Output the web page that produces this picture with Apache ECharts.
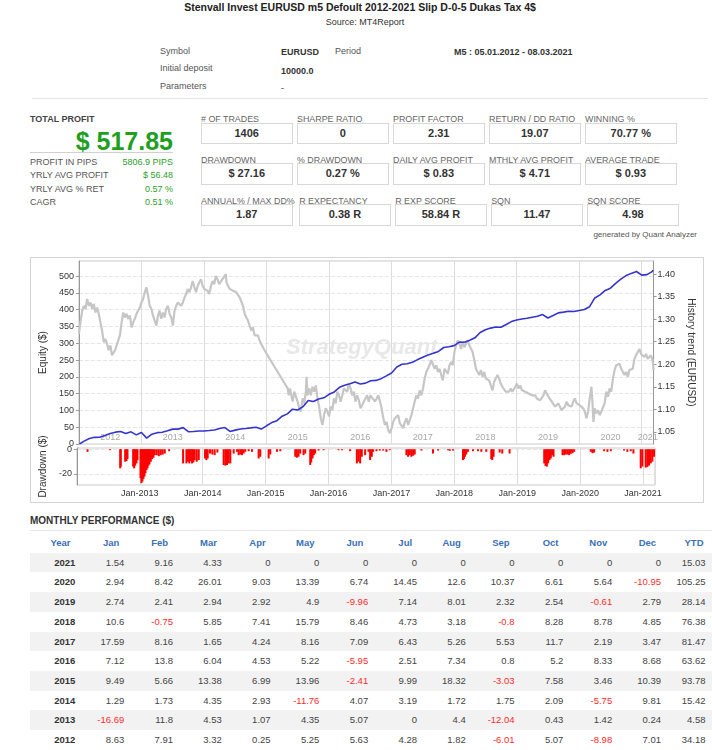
<!DOCTYPE html>
<html>
<head>
<meta charset="utf-8">
<script src="https://cdn.jsdelivr.net/npm/echarts@6/dist/echarts.min.js"></script>
<style>
body { margin:0; width:712px; height:750px; position:relative; overflow:hidden; background:#fff;
	font-family:"Liberation Sans", Arial, sans-serif; color:#444; }
.t { position:absolute; white-space:nowrap; height:14px; line-height:14px; }
.lbl { font-size:9px; color:#555; }
.val { font-size:9px; color:#333; font-weight:bold; }
.sum-row { position:absolute; left:30px; width:143px; height:12px; line-height:12px; font-size:9px; }
.sum-row span.l { color:#555; }
.sum-row span.r { float:right; color:#2ca02c; }
.box-row { position:absolute; left:201px; white-space:nowrap; font-size:0; }
.cell { display:inline-block; vertical-align:top; margin-right:4.5px; min-width:91.5px; }
.cell .cl { font-size:8.9px; color:#666; height:8px; line-height:8px; white-space:nowrap; }
.cell .cb { width:91.5px; height:21.5px; box-sizing:border-box; border:1px solid #d8d8d8; margin-top:-0.5px;
	text-align:center; line-height:19.5px; font-size:11px; font-weight:bold; color:#333; }
#perf { position:absolute; left:30px; top:533px; border-collapse:collapse; table-layout:fixed; width:682px; }
#perf td, #perf th { height:19.7px; line-height:19.7px; padding:0 3.6px 0 0; text-align:right; font-size:9.5px;
	white-space:nowrap; overflow:visible; color:#444; font-weight:normal; }
#perf th { color:#3a70b5; font-weight:bold; padding-right:8.5px; }
#perf td.yr { font-weight:bold; color:#333; }
#perf td.neg { color:#ff2b2b; }
#perf tr.odd td { background:#f2f2f2; }
</style>
</head>
<body>

<div class="t" style="left:160px; width:400px; top:0px; text-align:center; font-size:10.5px; font-weight:bold; color:#222;">Stenvall Invest EURUSD m5 Defoult 2012-2021 Slip D-0-5 Dukas Tax 4$</div>
<div class="t" style="left:265px; width:200px; top:15px; text-align:center; font-size:9px; color:#333;">Source: MT4Report</div>

<div class="t lbl" style="left:160px; top:44px;">Symbol</div>
<div class="t val" style="left:281px; top:45px;">EURUSD</div>
<div class="t lbl" style="left:335px; top:44px;">Period</div>
<div class="t val" style="left:454px; top:45px;">M5 : 05.01.2012 - 08.03.2021</div>
<div class="t lbl" style="left:160px; top:61px;">Initial deposit</div>
<div class="t val" style="left:281px; top:64px;">10000.0</div>
<div class="t lbl" style="left:160px; top:79px;">Parameters</div>
<div class="t val" style="left:281px; top:81px; font-weight:normal;">-</div>
<div style="position:absolute; left:32px; top:98px; width:676px; height:1px; background:#e3e3e3;"></div>

<div class="t" style="left:30px; top:112px; font-size:9px; font-weight:bold; color:#444;">TOTAL PROFIT</div>
<div class="t" id="total_profit" style="left:30px; width:143px; top:126px; height:30px; line-height:30px; text-align:right; font-size:25px; font-weight:bold; color:#1f9f1f;"></div>
<div style="position:absolute; left:30px; top:152px; width:143px; height:1px; background:#d0d0d0;"></div>
<div id="summary"></div>

<div id="boxes"></div>
<div class="t" style="left:497px; width:200px; top:228px; text-align:right; font-size:8px; color:#555;">generated by Quant Analyzer</div>

<div id="chart" style="position:absolute; left:30px; top:257px; width:674px; height:246px;"></div>

<div class="t" style="left:30px; top:514px; font-size:10px; font-weight:bold; color:#333;">MONTHLY PERFORMANCE ($)</div>
<div style="position:absolute; left:30px; top:530px; width:682px; height:1px; background:#e6e6e6;"></div>
<table id="perf"></table>

<script>
// ---- data ----
var totalProfit = '$ 517.85';
var summaryLabels = ['PROFIT IN PIPS', 'YRLY AVG PROFIT', 'YRLY AVG % RET', 'CAGR'];
var summaryValues = ['5806.9 PIPS', '$ 56.48', '0.57 %', '0.51 %'];

var boxLabels = [
	['# OF TRADES', 'SHARPE RATIO', 'PROFIT FACTOR', 'RETURN / DD RATIO', 'WINNING %'],
	['DRAWDOWN', '% DRAWDOWN', 'DAILY AVG PROFIT', 'MTHLY AVG PROFIT', 'AVERAGE TRADE'],
	['ANNUAL% / MAX DD%', 'R EXPECTANCY', 'R EXP SCORE', 'SQN', 'SQN SCORE']
];
var boxValues = [
	['1406', '0', '2.31', '19.07', '70.77 %'],
	['$ 27.16', '0.27 %', '$ 0.83', '$ 4.71', '$ 0.93'],
	['1.87', '0.38 R', '58.84 R', '11.47', '4.98']
];

var monthNames = ['Jan', 'Feb', 'Mar', 'Apr', 'May', 'Jun', 'Jul', 'Aug', 'Sep', 'Oct', 'Nov', 'Dec'];
var perfYears = [2021, 2020, 2019, 2018, 2017, 2016, 2015, 2014, 2013, 2012];
var monthly = [
	[1.54, 9.16, 4.33, 0, 0, 0, 0, 0, 0, 0, 0, 0],
	[2.94, 8.42, 26.01, 9.03, 13.39, 6.74, 14.45, 12.6, 10.37, 6.61, 5.64, -10.95],
	[2.74, 2.41, 2.94, 2.92, 4.9, -9.96, 7.14, 8.01, 2.32, 2.54, -0.61, 2.79],
	[10.6, -0.75, 5.85, 7.41, 15.79, 8.46, 4.73, 3.18, -0.8, 8.28, 8.78, 4.85],
	[17.59, 8.16, 1.65, 4.24, 8.16, 7.09, 6.43, 5.26, 5.53, 11.7, 2.19, 3.47],
	[7.12, 13.8, 6.04, 4.53, 5.22, -5.95, 2.51, 7.34, 0.8, 5.2, 8.33, 8.68],
	[9.49, 5.66, 13.38, 6.99, 13.96, -2.41, 9.99, 18.32, -3.03, 7.58, 3.46, 10.39],
	[1.29, 1.73, 4.35, 2.93, -11.76, 4.07, 3.19, 1.72, 1.75, 2.09, -5.75, 9.81],
	[-16.69, 11.8, 4.53, 1.07, 4.35, 5.07, 0, 4.4, -12.04, 0.43, 1.42, 0.24],
	[8.63, 7.91, 3.32, 0.25, 5.25, 5.63, 4.28, 1.82, -6.01, 5.07, -8.98, 7.01]
];
var ytd = [15.03, 105.25, 28.14, 76.38, 81.47, 63.62, 93.78, 15.42, 4.58, 34.18];

// test period, decimal years (05.01.2012 - 08.03.2021)
var testStart = 2012.01;
var testEnd = 2021.18;

// equity at each month end, Jan 2012 .. Mar 2021
var equity = [
	8.63, 16.54, 19.86, 20.11, 25.36, 30.99, 35.27, 37.09, 31.08, 36.15, 27.17, 34.18,
	17.49, 29.29, 33.82, 34.89, 39.24, 44.31, 44.31, 48.71, 36.67, 37.10, 38.52, 38.76,
	40.05, 41.78, 46.13, 49.06, 37.30, 41.37, 44.56, 46.28, 48.03, 50.12, 44.37, 54.18,
	63.67, 69.33, 82.71, 89.70, 103.66, 101.25, 111.24, 129.56, 126.53, 134.11, 137.57, 147.96,
	155.08, 168.88, 174.92, 179.45, 184.67, 178.72, 181.23, 188.57, 189.37, 194.57, 202.90, 211.58,
	229.17, 237.33, 238.98, 243.22, 251.38, 258.47, 264.90, 270.16, 275.69, 287.39, 289.58, 293.05,
	303.65, 302.90, 308.75, 316.16, 331.95, 340.41, 345.14, 348.32, 347.52, 355.80, 364.58, 369.43,
	372.17, 374.58, 377.52, 380.44, 385.34, 375.38, 382.52, 390.53, 392.85, 395.39, 394.78, 397.57,
	400.51, 408.93, 434.94, 443.97, 457.36, 464.10, 478.55, 491.15, 501.52, 508.13, 513.77, 502.82,
	504.36, 513.52, 517.85
];

// EURUSD history trend [decimal year, price]
var eurusd = [
	[2012.000,1.268],[2012.021,1.290],[2012.053,1.319],[2012.079,1.330],[2012.106,1.323],[2012.132,1.345],[2012.159,1.330],[2012.185,1.337],[2012.212,1.323],[2012.238,1.334],[2012.265,1.315],[2012.291,1.326],[2012.317,1.312],[2012.344,1.293],[2012.370,1.275],[2012.397,1.249],[2012.423,1.256],[2012.450,1.245],[2012.476,1.231],[2012.503,1.242],[2012.529,1.220],[2012.550,1.216],[2012.577,1.231],[2012.603,1.242],[2012.630,1.253],[2012.656,1.264],[2012.683,1.293],[2012.709,1.315],[2012.735,1.304],[2012.762,1.312],[2012.788,1.301],[2012.815,1.308],[2012.841,1.282],[2012.868,1.293],[2012.894,1.301],[2012.921,1.312],[2012.947,1.319],[2012.974,1.326],
	[2013.000,1.337],[2013.026,1.345],[2013.053,1.360],[2013.079,1.371],[2013.106,1.352],[2013.132,1.330],[2013.159,1.323],[2013.185,1.308],[2013.212,1.304],[2013.238,1.286],[2013.265,1.308],[2013.291,1.319],[2013.317,1.301],[2013.344,1.315],[2013.370,1.304],[2013.397,1.323],[2013.423,1.330],[2013.450,1.312],[2013.476,1.304],[2013.503,1.286],[2013.529,1.319],[2013.556,1.330],[2013.582,1.337],[2013.608,1.341],[2013.635,1.330],[2013.661,1.337],[2013.688,1.348],[2013.714,1.356],[2013.741,1.367],[2013.767,1.360],[2013.794,1.371],[2013.820,1.385],[2013.847,1.371],[2013.873,1.360],[2013.899,1.374],[2013.926,1.382],[2013.952,1.389],[2013.979,1.374],
	[2014.005,1.367],[2014.032,1.371],[2014.058,1.363],[2014.085,1.356],[2014.111,1.374],[2014.138,1.385],[2014.164,1.378],[2014.190,1.396],[2014.217,1.389],[2014.243,1.378],[2014.270,1.382],[2014.296,1.389],[2014.323,1.393],[2014.349,1.400],[2014.360,1.382],[2014.386,1.374],[2014.413,1.367],[2014.439,1.371],[2014.466,1.363],[2014.492,1.367],[2014.519,1.360],[2014.545,1.356],[2014.571,1.348],[2014.598,1.345],[2014.624,1.330],[2014.651,1.312],[2014.677,1.304],[2014.704,1.297],[2014.730,1.286],[2014.757,1.275],[2014.783,1.282],[2014.810,1.264],[2014.836,1.260],[2014.862,1.264],[2014.889,1.253],[2014.915,1.245],[2014.942,1.242],[2014.968,1.231],
	[2015.339,1.146],[2015.354,1.131],[2015.376,1.146],[2015.397,1.131],[2015.418,1.117],[2015.444,1.139],[2015.471,1.135],[2015.497,1.117],[2015.524,1.102],[2015.550,1.095],[2015.577,1.124],[2015.603,1.113],[2015.630,1.139],[2015.640,1.172],[2015.656,1.131],[2015.683,1.146],[2015.709,1.131],[2015.735,1.150],[2015.762,1.139],[2015.788,1.153],[2015.815,1.124],[2015.841,1.106],[2015.868,1.080],[2015.894,1.065],[2015.921,1.087],[2015.947,1.102],[2015.974,1.095],
	[2016.000,1.084],[2016.026,1.106],[2016.053,1.098],[2016.079,1.124],[2016.106,1.113],[2016.132,1.139],[2016.159,1.131],[2016.185,1.117],[2016.212,1.131],[2016.238,1.146],[2016.265,1.150],[2016.291,1.139],[2016.317,1.157],[2016.344,1.146],[2016.370,1.131],[2016.397,1.139],[2016.423,1.117],[2016.450,1.131],[2016.476,1.120],[2016.503,1.102],[2016.529,1.109],[2016.556,1.117],[2016.582,1.124],[2016.608,1.131],[2016.635,1.117],[2016.661,1.131],[2016.688,1.135],
	[2016.735,1.117],[2016.762,1.124],[2016.788,1.131],[2016.815,1.117],[2016.841,1.102],[2016.868,1.080],[2016.894,1.065],[2016.921,1.072],[2016.947,1.054],[2016.974,1.047],
	[2017.000,1.058],[2017.026,1.072],[2017.053,1.080],[2017.079,1.076],[2017.106,1.087],[2017.132,1.069],[2017.159,1.065],[2017.185,1.058],[2017.212,1.072],[2017.238,1.080],[2017.265,1.065],[2017.291,1.069],[2017.317,1.087],[2017.344,1.102],[2017.370,1.117],[2017.397,1.131],[2017.423,1.124],[2017.450,1.142],[2017.476,1.131],[2017.503,1.146],[2017.529,1.168],[2017.556,1.183],[2017.582,1.187],[2017.608,1.198],[2017.635,1.209],[2017.661,1.205],[2017.688,1.190],[2017.714,1.198],[2017.741,1.183],[2017.767,1.190],[2017.794,1.176],[2017.820,1.164],[2017.847,1.190],[2017.873,1.187],[2017.899,1.179],[2017.926,1.198],[2017.952,1.205],[2017.979,1.198],
	[2018.005,1.227],[2018.032,1.242],[2018.058,1.253],[2018.085,1.245],[2018.111,1.234],[2018.138,1.249],[2018.164,1.238],[2018.190,1.245],[2018.217,1.253],[2018.243,1.242],[2018.270,1.245],[2018.296,1.227],[2018.323,1.209],[2018.349,1.190],[2018.376,1.183],[2018.402,1.176],[2018.429,1.187],[2018.455,1.172],[2018.481,1.183],[2018.508,1.168],[2018.534,1.172],[2018.561,1.164],[2018.587,1.153],[2018.614,1.142],[2018.640,1.161],[2018.667,1.164],[2018.693,1.176],[2018.720,1.168],[2018.746,1.157],[2018.772,1.150],[2018.799,1.146],[2018.825,1.139],[2018.852,1.142],[2018.878,1.139],[2018.905,1.146],[2018.931,1.139],
	[2018.979,1.150],[2019.005,1.157],[2019.032,1.146],[2019.058,1.153],[2019.085,1.142],[2019.111,1.146],[2019.138,1.139],[2019.164,1.142],[2019.190,1.135],[2019.217,1.139],[2019.243,1.131],[2019.270,1.128],[2019.296,1.131],[2019.323,1.124],[2019.349,1.128],[2019.376,1.120],[2019.402,1.124],[2019.429,1.131],[2019.455,1.142],[2019.481,1.135],[2019.508,1.128],[2019.534,1.124],[2019.561,1.117],[2019.587,1.113],[2019.614,1.106],[2019.640,1.109],[2019.667,1.113],[2019.693,1.109],[2019.720,1.098],[2019.746,1.102],[2019.772,1.106],[2019.799,1.117],[2019.825,1.109],[2019.852,1.113],[2019.878,1.106],[2019.905,1.117],[2019.931,1.124],[2019.958,1.113],[2019.984,1.117],
	[2020.011,1.109],[2020.037,1.113],[2020.063,1.102],[2020.090,1.095],[2020.116,1.080],[2020.143,1.095],[2020.169,1.124],[2020.196,1.150],[2020.212,1.117],[2020.228,1.072],[2020.249,1.102],[2020.275,1.091],[2020.302,1.098],[2020.328,1.087],[2020.354,1.095],[2020.381,1.091],[2020.407,1.113],[2020.434,1.139],[2020.460,1.128],[2020.487,1.146],[2020.513,1.139],[2020.540,1.168],[2020.566,1.187],[2020.593,1.198],[2020.619,1.194],[2020.646,1.201],[2020.672,1.190],[2020.698,1.187],[2020.725,1.176],[2020.751,1.183],[2020.778,1.172],[2020.804,1.187],[2020.831,1.183],[2020.857,1.190],[2020.884,1.212],[2020.910,1.220],[2020.937,1.227],[2020.963,1.234],[2020.989,1.223],
	[2021.016,1.220],[2021.042,1.216],[2021.069,1.223],[2021.095,1.212],[2021.122,1.216],[2021.148,1.220],[2021.175,1.209],[2021.190,1.187]
];

// drawdown [decimal year, $]
var drawdown = [
	[2012.169,-2.1],[2012.529,-0.8],[2012.688,-15.5],[2012.698,-14.1],[2012.767,-10.1],[2012.788,-9.6],[2012.804,-8.0],[2012.894,-14.1],[2012.910,-15.5],[2012.926,-13.3],[2012.947,-11.5],[2012.963,-8.8],
	[2013.011,-23.5],[2013.026,-27.5],[2013.042,-26.1],[2013.058,-24.0],[2013.074,-22.1],[2013.090,-19.5],[2013.106,-16.8],[2013.122,-15.5],[2013.138,-13.3],[2013.153,-12.3],[2013.175,-10.1],[2013.196,-8.0],[2013.217,-6.9],[2013.238,-4.8],[2013.270,-4.8],[2013.302,-5.6],[2013.333,-4.8],[2013.365,-4.3],[2013.397,-3.5],[2013.466,-1.6],[2013.688,-11.5],[2013.741,-11.5],[2013.767,-10.1],[2013.788,-11.5],[2013.810,-9.6],[2013.831,-11.5],[2013.852,-10.7],[2013.873,-8.8],[2013.905,-10.1],[2013.937,-8.8],
	[2014.037,-7.5],[2014.058,-8.8],[2014.079,-7.5],[2014.116,-3.5],[2014.153,-4.3],[2014.190,-4.8],[2014.233,-2.7],[2014.333,-12.8],[2014.360,-13.3],[2014.386,-12.8],[2014.413,-11.5],[2014.439,-11.5],[2014.492,-3.5],[2014.545,-2.1],[2014.571,-4.8],[2014.598,-4.3],[2014.624,-4.8],[2014.651,-3.5],[2014.677,-2.1],[2014.730,-1.6],[2014.783,-2.1],[2014.889,-7.5],[2014.915,-6.1],
	[2015.048,-7.5],[2015.074,-4.3],[2015.180,-2.1],[2015.233,-1.6],[2015.471,-6.1],[2015.497,-6.9],[2015.524,-6.1],[2015.550,-3.5],[2015.603,-4.8],[2015.630,-3.5],[2015.709,-12.8],[2015.725,-10.7],[2015.746,-7.5],[2015.767,-4.8],[2015.788,-3.5],[2015.841,-1.1],[2015.921,-0.8],
	[2016.159,-0.8],[2016.212,-0.8],[2016.344,-1.6],[2016.450,-11.5],[2016.476,-10.1],[2016.503,-11.5],[2016.529,-6.1],[2016.582,-4.8],[2016.635,-2.1],[2016.661,-8.8],[2016.688,-6.1],[2016.709,-2.1],[2016.762,-1.6],[2016.815,-1.1],[2016.868,-1.1],[2016.921,-2.1],[2016.974,-0.8],
	[2017.238,-4.8],[2017.265,-6.1],[2017.291,-4.8],[2017.317,-6.1],[2017.344,-5.3],[2017.370,-4.3],[2017.476,-1.1],[2017.661,-3.5],[2017.741,-1.1],[2017.899,-0.8],[2017.926,-1.3],[2017.979,-1.1],
	[2018.138,-8.8],[2018.153,-8.0],[2018.169,-6.1],[2018.190,-4.3],[2018.217,-2.1],[2018.296,-1.6],[2018.376,-1.6],[2018.429,-2.1],[2018.508,-2.1],[2018.587,-8.0],[2018.603,-8.8],[2018.624,-6.1],[2018.720,-2.7],[2018.762,-3.5],[2018.878,-3.5],
	[2019.429,-11.5],[2019.450,-13.6],[2019.471,-14.1],[2019.492,-11.5],[2019.513,-8.8],[2019.534,-7.5],[2019.556,-4.8],[2019.577,-6.1],[2019.720,-4.8],[2019.746,-4.8],[2019.772,-4.3],[2019.799,-4.3],[2019.825,-4.8],[2019.852,-3.7],[2019.878,-3.2],[2019.905,-2.1],
	[2020.169,-2.1],[2020.196,-3.2],[2020.222,-2.7],[2020.381,-1.6],[2020.434,-2.1],[2020.487,-1.6],[2020.698,-1.1],[2020.751,-2.1],[2020.804,-1.6],[2020.847,-3.5],[2020.963,-15.5],[2020.989,-14.1],
	[2021.042,-14.9],[2021.069,-14.4],[2021.095,-13.3],[2021.122,-11.5],[2021.148,-10.1],[2021.175,-6.1]
];

// ---- text panels ----
document.getElementById('total_profit').innerHTML = totalProfit;

var html = '';
var sumTops = [155.5, 169, 182.5, 196];
for (var i = 0; i < summaryLabels.length; ++i) {
	html += "<div class='sum-row' style='top:" + sumTops[i] + "px'>"
		+ "<span class='l'>" + summaryLabels[i] + "</span>"
		+ "<span class='r'>" + summaryValues[i] + "</span></div>";
}
document.getElementById('summary').innerHTML = html;

html = '';
var rowTops = [115, 155.5, 196.5];
for (var r = 0; r < boxLabels.length; ++r) {
	html += "<div class='box-row' style='top:" + rowTops[r] + "px'>";
	for (var c = 0; c < boxLabels[r].length; ++c) {
		html += "<div class='cell'><div class='cl'>" + boxLabels[r][c] + "</div>"
			+ "<div class='cb'>" + boxValues[r][c] + "</div></div>";
	}
	html += "</div>";
}
document.getElementById('boxes').innerHTML = html;

// ---- monthly table ----
html = "<colgroup><col style='width:49px'>";
for (var m = 0; m < 12; ++m) {
	html += "<col style='width:48.8px'>";
}
html += "<col style='width:47.4px'></colgroup>";
html += "<tr><th>Year</th>";
for (var m = 0; m < 12; ++m) {
	html += "<th>" + monthNames[m] + "</th>";
}
html += "<th>YTD</th></tr>";
for (var i = 0; i < perfYears.length; ++i) {
	html += "<tr class='" + (i % 2 == 0 ? "odd" : "even") + "'><td class='yr'>" + perfYears[i] + "</td>";
	for (var m = 0; m < 12; ++m) {
		var v = monthly[i][m];
		html += "<td" + (v < 0 ? " class='neg'" : "") + ">" + v + "</td>";
	}
	html += "<td" + (ytd[i] < 0 ? " class='neg'" : "") + " style='padding-right:6.5px'>" + ytd[i] + "</td></tr>";
}
document.getElementById('perf').innerHTML = html;

// ---- chart ----
var xMin = 2012, xMax = 2021.19;

var equityData = [[testStart, 0]];
for (var i = 0; i < equity.length; ++i) {
	equityData.push([Math.min(2012 + (i + 1) / 12, testEnd), equity[i]]);
}

// year captions sit in the middle of the visible part of each year
var yearMids = [];
for (var y = 2012; y <= 2021; ++y) {
	yearMids.push((Math.max(y, xMin) + Math.min(y + 1, xMax)) / 2);
}

var option = {
	animation: false,
	textStyle: { fontFamily: 'Liberation Sans, Arial, sans-serif' },
	graphic: [
		{ type: 'rect', shape: { x: 0.5, y: 0.5, width: 673, height: 245 },
			style: { fill: 'none', stroke: '#d4d4d4', lineWidth: 1 }, silent: true },
		{ type: 'text', left: 256, top: 80, z: 0, silent: true,
			style: { text: 'StrategyQuant', fontSize: 22, fontStyle: 'italic', fontWeight: 'bold',
				fill: '#e8e8e8', fontFamily: 'Liberation Sans, Arial, sans-serif' } }
	],
	grid: [
		{ left: 46, top: 4, width: 579, height: 183, show: true, borderColor: '#c8c8c8', borderWidth: 1 },
		{ left: 46, top: 191, width: 579, height: 37, show: true, borderColor: '#c8c8c8', borderWidth: 1 }
	],
	xAxis: [
		{
			gridIndex: 0, type: 'value', position: 'bottom', min: xMin, max: xMax, interval: 1,
			axisLine: { show: false }, axisTick: { show: false }, axisLabel: { show: false },
			splitLine: { show: true, lineStyle: { color: '#dcdcdc', width: 1 } }
		},
		{
			gridIndex: 0, type: 'value', position: 'bottom', min: xMin, max: xMax,
			axisLine: { show: false }, axisTick: { show: false }, splitLine: { show: false },
			axisLabel: {
				inside: true, margin: 2, fontSize: 9, color: '#a8a8a8',
				customValues: yearMids,
				formatter: function (v) { return String(Math.floor(v)); }
			}
		},
		{
			gridIndex: 1, type: 'value', position: 'bottom', min: xMin, max: xMax, interval: 1,
			axisLine: { show: false }, axisTick: { show: false },
			splitLine: { show: true, lineStyle: { color: '#dcdcdc', width: 1 } },
			axisLabel: {
				fontSize: 9, color: '#333', margin: 4, showMinLabel: false, showMaxLabel: false,
				formatter: function (v) { return 'Jan-' + Math.round(v); }
			}
		}
	],
	yAxis: [
		{
			gridIndex: 0, type: 'value', position: 'left', min: 0, max: 545, interval: 50,
			name: 'Equity ($)', nameLocation: 'middle', nameGap: 25,
			nameTextStyle: { fontSize: 10, color: '#333' },
			axisLine: { show: true, lineStyle: { color: '#999' } },
			axisTick: { show: true, length: 3, lineStyle: { color: '#999' } },
			axisLabel: { fontSize: 9, color: '#333', margin: 5, showMaxLabel: false },
			splitLine: { show: true, lineStyle: { color: '#e6e6e6', type: 'dashed' } }
		},
		{
			gridIndex: 0, type: 'value', position: 'right', min: 1.0228, max: 1.4294, splitNumber: 8,
			name: 'History trend (EURUSD)', nameLocation: 'middle', nameRotate: -90, nameGap: 25,
			nameTextStyle: { fontSize: 10, color: '#333' },
			axisLine: { show: true, lineStyle: { color: '#999' } },
			axisTick: { show: true, length: 3, lineStyle: { color: '#999' } },
			axisLabel: {
				fontSize: 9, color: '#333', margin: 4, showMinLabel: false, showMaxLabel: false,
				formatter: function (v) { return v.toFixed(2); }
			},
			splitLine: { show: false }
		},
		{
			gridIndex: 1, type: 'value', position: 'left', min: -29, max: 1, splitNumber: 2,
			name: 'Drawdown ($)', nameLocation: 'middle', nameGap: 25,
			nameTextStyle: { fontSize: 10, color: '#333' },
			axisLine: { show: true, lineStyle: { color: '#999' } },
			axisTick: { show: true, length: 3, lineStyle: { color: '#999' } },
			axisLabel: { fontSize: 9, color: '#333', margin: 5, showMinLabel: false, showMaxLabel: false },
			splitLine: { show: true, lineStyle: { color: '#e6e6e6', type: 'dashed' } }
		}
	],
	series: [
		{
			name: 'EURUSD', type: 'line', xAxisIndex: 0, yAxisIndex: 1, data: eurusd,
			symbol: 'none', z: 2, lineStyle: { color: '#c6c6c6', width: 2.2 }
		},
		{
			name: 'Equity', type: 'line', xAxisIndex: 0, yAxisIndex: 0, data: equityData,
			symbol: 'none', z: 3, lineStyle: { color: '#3434d0', width: 1.6 }
		},
		{
			name: 'Drawdown', type: 'bar', xAxisIndex: 2, yAxisIndex: 2, data: drawdown,
			barWidth: 2, itemStyle: { color: '#ff0000' }
		}
	]
};

var chart = echarts.init(document.getElementById('chart'));
chart.setOption(option);
</script>
</body>
</html>
